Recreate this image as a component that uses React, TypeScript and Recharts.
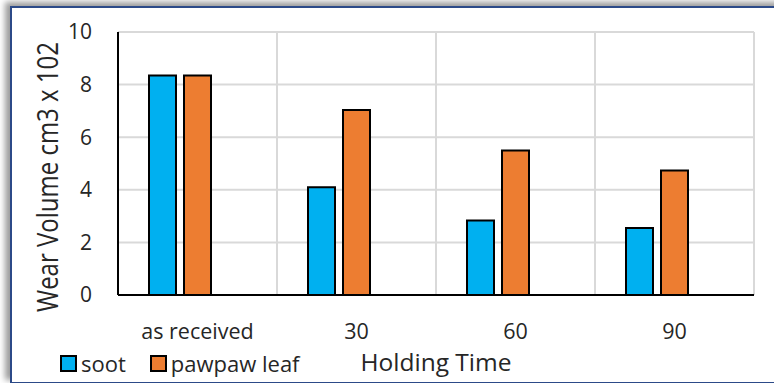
import { BarChart, Bar, XAxis, YAxis, CartesianGrid, Label } from 'recharts';

const CATEGORIES = ['as received', '30', '60', '90'];
const SOOT = [8.35, 4.1, 2.83, 2.55];
const PAWPAW = [8.35, 7.03, 5.49, 4.73];
const Y_TICKS = [0, 2, 4, 6, 8, 10];

const SERIES = [
  { key: 'soot', name: 'soot', color: '#00b0f0' },
  { key: 'pawpaw', name: 'pawpaw leaf', color: '#ed7d31' },
];

const FONT = '"Open Sans", "Noto Sans", sans-serif';
const TEXT = '#262626';

const data = CATEGORIES.map((c, i) => ({
  name: c,
  soot: SOOT[i],
  pawpaw: PAWPAW[i],
  blank: null,
}));

// grid lines sit between categories (Excel style), not on the tick centres
const gridX = ({ offset }: any) =>
  CATEGORIES.map((_, i) => offset.left + (offset.width * (i + 1)) / CATEGORIES.length);

function LegendBox() {
  return (
    <div
      style={{
        position: 'absolute',
        left: 60,
        top: 349,
        display: 'flex',
        alignItems: 'center',
        fontFamily: FONT,
        fontSize: 22,
        lineHeight: '28px',
        color: TEXT,
      }}
    >
      {SERIES.map((s) => (
        <div key={s.key} style={{ display: 'flex', alignItems: 'center', marginRight: 24 }}>
          <div
            style={{
              width: 13,
              height: 13,
              background: s.color,
              border: '2px solid #000',
              marginRight: 4,
            }}
          />
          <span>{s.name}</span>
        </div>
      ))}
    </div>
  );
}

export default function App() {
  return (
    <div
      style={{
        position: 'absolute',
        left: 0,
        top: 0,
        width: 774,
        height: 383,
        overflow: 'hidden',
        background: '#fff',
      }}
    >
      <div
        style={{
          position: 'absolute',
          left: 10,
          top: 6,
          width: 800,
          height: 374,
          border: '2px solid #2c4a88',
          boxShadow: '-5px -4px 6px #9c9c9c',
          background: '#fff',
        }}
      />
      <div style={{ position: 'absolute', left: 0, top: 0 }}>
        <BarChart
          width={774}
          height={383}
          data={data}
          margin={{ top: 32, right: 20, left: 0, bottom: 58 }}
          barSize={27}
          barGap={8}
        >
          <CartesianGrid
            stroke="#d9d9d9"
            strokeWidth={2}
            verticalCoordinatesGenerator={gridX}
          />
          <XAxis
            dataKey="name"
            height={30}
            axisLine={{ stroke: '#000', strokeWidth: 2 }}
            tickLine={false}
            tickSize={6}
            tickMargin={23}
            tick={{ fill: TEXT, fontSize: 21.5, fontFamily: FONT }}
            interval={0}
          >
            <Label
              content={({ viewBox }: any) => (
                <text
                  x={viewBox.x + viewBox.width / 2}
                  y={371}
                  textAnchor="middle"
                  fill={TEXT}
                  fontSize={24.5}
                  fontFamily={FONT}
                >
                  Holding Time
                </text>
              )}
            />
          </XAxis>
          <YAxis
            width={118}
            domain={[0, 10]}
            ticks={Y_TICKS}
            axisLine={{ stroke: '#000', strokeWidth: 2 }}
            tickLine={false}
            tickSize={6}
            tickMargin={20}
            tick={{ fill: TEXT, fontSize: 21, fontFamily: FONT }}
          >
            <Label
              content={() => (
                <text
                  x={0}
                  y={0}
                  transform="translate(58, 177) rotate(-90) scale(1, 1.2)"
                  textAnchor="middle"
                  fill={TEXT}
                  fontSize={24}
                  fontFamily={FONT}
                >
                  Wear Volume cm3 x 102
                </text>
              )}
            />
          </YAxis>
          {SERIES.map((s) => (
            <Bar
              key={s.key}
              dataKey={s.key}
              name={s.name}
              fill={s.color}
              stroke="#000"
              strokeWidth={2}
              isAnimationActive={false}
            />
          ))}
          <Bar dataKey="blank" legendType="none" fill="none" isAnimationActive={false} />
        </BarChart>
      </div>
      <LegendBox />
    </div>
  );
}
